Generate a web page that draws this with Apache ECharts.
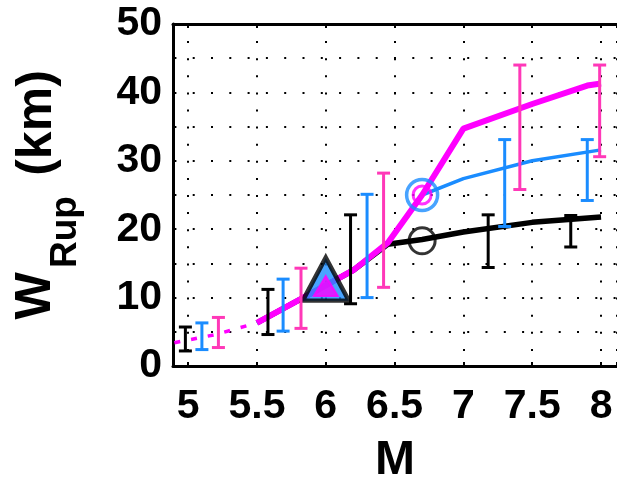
<!DOCTYPE html>
<html><head><meta charset="utf-8">
<script src="https://cdn.jsdelivr.net/npm/echarts@6/dist/echarts.min.js"></script>
<style>html,body{margin:0;padding:0;background:#fff}#c{width:617px;height:484px}</style>
</head><body><div id="c"></div>
<script>
// ---- data ----
const xTickLabels = [5, 5.5, 6, 6.5, 7, 7.5, 8];
const yTickLabels = [0, 10, 20, 30, 40, 50];
const magentaLine = [[5.5,6.3],[6.0,11.8],[6.2,14.0],[6.45,18.0],[6.7,25.0],[7.0,34.7],[7.5,38.3],[7.9,41.0],[8.0,41.3]];
const blackLine = [[5.5,6.3],[6.0,11.8],[6.2,14.0],[6.45,17.8],[6.7,18.5],[7.0,19.6],[7.5,21.0],[8.0,21.8]];
const blueLine = [[5.5,6.3],[6.0,11.8],[6.2,14.0],[6.45,18.0],[6.7,25.0],[7.0,27.4],[7.5,30.0],[8.0,31.6]];
const dottedExt = [[4.9,3.4],[5.2,4.6],[5.5,6.3]];
// error bars: [M, low, high]
const blackErr = [[4.98,2.2,5.7],[5.58,4.6,11.2],[6.18,9.1,22.1],[7.18,14.4,22.1],[7.78,17.4,22.0]];
const blueErr = [[5.10,2.4,6.3],[5.69,5.1,12.7],[6.30,10.0,25.1],[7.30,20.4,33.1],[7.90,24.2,33.1]];
const pinkErr = [[5.22,2.7,7.1],[5.82,5.5,14.3],[6.42,11.5,28.2],[7.41,25.8,44.0],[7.99,30.6,44.0]];
const triangleMark = [[6.0,12.7]];
const blueCircle = [[6.7,25.0]];
const blackCircle = [[6.7,18.3]];

const BLUE = '#1a8cff', PINK = '#ff38b8', MAG = '#ff00ff';
const FONT = '"Liberation Sans", Arial, Helvetica, sans-serif';
const X_MIN = 4.89, X_MAX = 8.116;

function errRender(color){
  return function(params, api){
    const x = api.value(0), lo = api.value(1), hi = api.value(2);
    const a = api.coord([x, lo]), b = api.coord([x, hi]);
    const hw = 6.5;
    const st = {stroke: color, lineWidth: 3};
    return {type:'group', children:[
      {type:'line', shape:{x1:a[0],y1:a[1],x2:b[0],y2:b[1]}, style:st},
      {type:'line', shape:{x1:a[0]-hw,y1:a[1],x2:a[0]+hw,y2:a[1]}, style:st},
      {type:'line', shape:{x1:b[0]-hw,y1:b[1],x2:b[0]+hw,y2:b[1]}, style:st}
    ]};
  };
}
function errSeries(data, color){
  return {type:'custom', data:data, renderItem:errRender(color), encode:{x:0, y:[1,2]}, z:10, silent:true};
}

const chart = echarts.init(document.getElementById('c'), null, {renderer:'canvas'});
chart.setOption({
  animation:false,
  backgroundColor:'#fff',
  grid:{left:173, top:24, right:0, bottom:118, show:false, containLabel:false, outerBoundsMode:'none'},
  xAxis:[{
    type:'value', min:X_MIN, max:X_MAX, splitNumber:7,
    name:'M', nameLocation:'middle', nameGap:71,
    nameTextStyle:{fontFamily:FONT, fontWeight:'bold', fontSize:48, color:'#000'},
    axisLine:{show:true, onZero:false, lineStyle:{color:'#000', width:3}},
    axisTick:{show:true, inside:true, length:4, lineStyle:{color:'#000', width:2}},
    axisLabel:{fontFamily:FONT, fontWeight:'bold', fontSize:41, color:'#000', margin:20,
      formatter:function(v){ return xTickLabels.some(t=>Math.abs(t-v)<1e-6) ? String(v) : ''; }},
    splitLine:{show:true, lineStyle:{color:'#000', width:2, type:[2,15.1]}}
  },{
    type:'value', position:'top', min:X_MIN, max:X_MAX, splitNumber:7,
    axisLine:{show:true, onZero:false, lineStyle:{color:'#000', width:3}},
    axisTick:{show:true, inside:true, length:4, lineStyle:{color:'#000', width:2}},
    axisLabel:{show:false}, splitLine:{show:false}
  }],
  yAxis:{
    type:'value', min:0, max:50, interval:5,
    axisLine:{show:true, onZero:false, lineStyle:{color:'#000', width:3}},
    axisTick:{show:false},
    axisLabel:{fontFamily:FONT, fontWeight:'bold', fontSize:41, color:'#000', margin:11,
      formatter:function(v){ return yTickLabels.some(t=>Math.abs(t-v)<1e-6) ? String(v) : ''; }},
    splitLine:{show:true, lineStyle:{color:'#000', width:2, type:[2,16.3], dashOffset:16.9}}
  },
  graphic:[
    {type:'text', x:36, y:296, rotation:Math.PI/2, style:{text:'W', font:'bold 50px '+FONT, fill:'#000', align:'center', verticalAlign:'middle'}},
    {type:'text', x:66, y:232, rotation:Math.PI/2, style:{text:'Rup', font:'bold 37px '+FONT, fill:'#000', align:'center', verticalAlign:'middle'}},
    {type:'text', x:37, y:123, rotation:Math.PI/2, style:{text:'(km)', font:'bold 50px '+FONT, fill:'#000', align:'center', verticalAlign:'middle'}}
  ],
  series:[
    {type:'line', data:dottedExt, showSymbol:false, lineStyle:{color:MAG, width:3.5, type:[6,11]}, z:2, silent:true},
    {type:'line', data:blackLine, showSymbol:false, lineStyle:{color:'#000', width:5.5}, z:2, silent:true},
    {type:'line', data:blueLine, showSymbol:false, lineStyle:{color:BLUE, width:3.5}, z:3, silent:true},
    {type:'line', data:magentaLine, showSymbol:false, lineStyle:{color:MAG, width:6}, z:4, silent:true},
    {type:'scatter', data:blackCircle, symbol:'circle', symbolSize:26, itemStyle:{color:'rgba(0,0,0,0)', borderColor:'#000', borderWidth:3}, z:5, silent:true},
    {type:'scatter', data:blueCircle, symbol:'circle', symbolSize:31, itemStyle:{color:'rgba(0,0,0,0)', borderColor:BLUE, borderWidth:3.5}, z:5, silent:true},
    {type:'scatter', data:blueCircle, symbol:'circle', symbolSize:18, itemStyle:{color:'rgba(0,0,0,0)', borderColor:MAG, borderWidth:3}, z:5, silent:true},
    {type:'scatter', data:triangleMark, symbol:'triangle', symbolSize:[46,43], itemStyle:{color:BLUE, borderColor:'#000', borderWidth:4.5}, z:6, silent:true},
    {type:'scatter', data:triangleMark, symbol:'triangle', symbolSize:[24,20], symbolOffset:[0,7], itemStyle:{color:MAG, borderColor:MAG, borderWidth:2}, z:7, silent:true},
    errSeries(blackErr, '#000'),
    errSeries(blueErr, BLUE),
    errSeries(pinkErr, PINK)
  ]
});
</script></body></html>
